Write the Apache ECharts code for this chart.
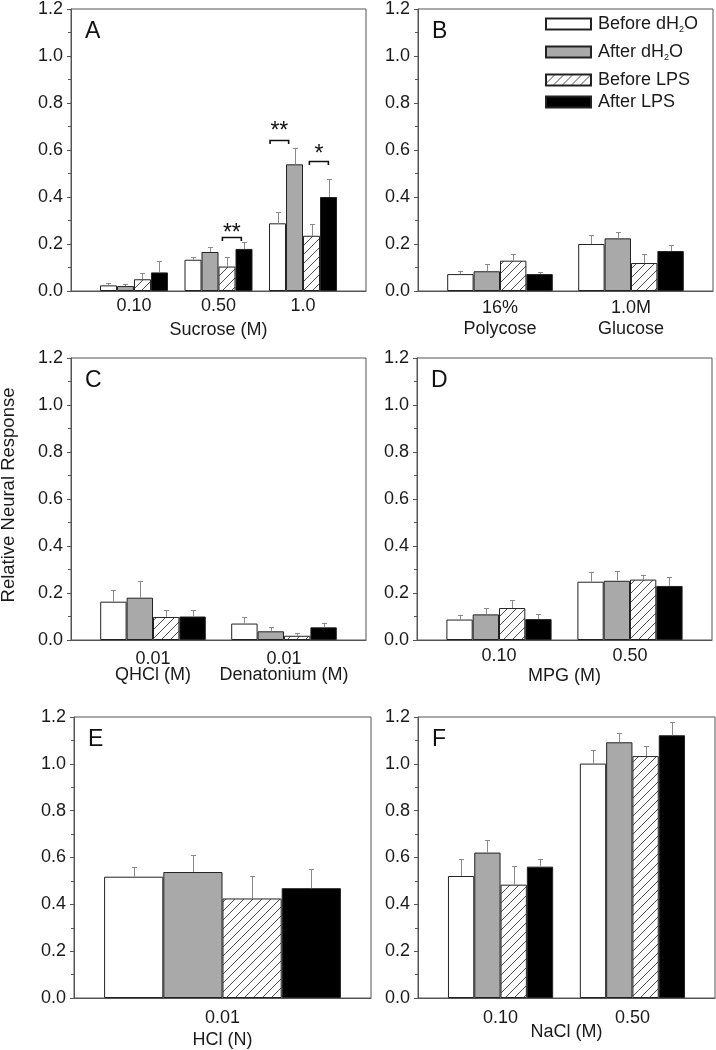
<!DOCTYPE html>
<html><head><meta charset="utf-8">
<script src="https://cdn.jsdelivr.net/npm/echarts@6/dist/echarts.min.js"></script>
<style>html,body{margin:0;padding:0;background:#fff}#c{width:716px;height:1050px}</style>
</head><body><div id="c"></div>
<script>
// ---------------- DATA ----------------
const seriesNames = ['Before dH2O', 'After dH2O', 'Before LPS', 'After LPS'];
const yTicks = [0, 0.2, 0.4, 0.6, 0.8, 1.0, 1.2];
const yTitle = 'Relative Neural Response';

// Panel A: Sucrose
const catA = ['0.10', '0.50', '1.0'];
const nameA = 'Sucrose (M)';
const valsA = [[0.024, 0.133, 0.288], [0.021, 0.166, 0.539], [0.050, 0.104, 0.235], [0.079, 0.179, 0.400]];
const errTopA = [[0.034, 0.145, 0.338], [0.031, 0.189, 0.609], [0.077, 0.145, 0.284], [0.128, 0.209, 0.478]];
// significance brackets in panel A (x in category units)
const sigX1 = [1.61, 2.075, 1.046];
const sigX2 = [1.83, 2.30, 1.27];
const sigY = [0.641, 0.555, 0.23];
const sigText = ['**', '*', '**'];
const sigTextY = [0.70, 0.603, 0.267];

// Panel B
const catB = ['16%\nPolycose', '1.0M\nGlucose'];
const valsB = [[0.072, 0.200], [0.084, 0.224], [0.129, 0.119], [0.072, 0.170]];
const errTopB = [[0.084, 0.238], [0.113, 0.250], [0.156, 0.156], [0.079, 0.197]];

// Panel C
const catC = ['0.01\nQHCl (M)', '0.01\nDenatonium (M)'];
const valsC = [[0.163, 0.070], [0.180, 0.037], [0.098, 0.018], [0.100, 0.054]];
const errTopC = [[0.211, 0.098], [0.250, 0.054], [0.129, 0.028], [0.126, 0.074]];

// Panel D
const catD = ['0.10', '0.50'];
const nameD = 'MPG (M)';
const valsD = [[0.087, 0.248], [0.109, 0.252], [0.136, 0.257], [0.089, 0.230]];
const errTopD = [[0.106, 0.289], [0.138, 0.294], [0.170, 0.278], [0.109, 0.268]];

// Panel E
const catE = ['0.01'];
const nameE = 'HCl (N)';
const valsE = [[0.518], [0.538], [0.425], [0.469]];
const errTopE = [[0.561], [0.611], [0.523], [0.550]];

// Panel F
const catF = ['0.10', '0.50'];
const nameF = 'NaCl (M)';
const valsF = [[0.521, 1.001], [0.621, 1.092], [0.484, 1.033], [0.561, 1.122]];
const errTopF = [[0.592, 1.061], [0.673, 1.133], [0.565, 1.077], [0.592, 1.179]];

// ---------------- STYLE / LAYOUT ----------------
const FF = "'Liberation Sans', Arial, Helvetica, sans-serif";
const FS = 18;
const TXT = '#1a1a1a';
const FRAME = '#555';
const hatch = (function () {
  const c = document.createElement('canvas'); c.width = 9; c.height = 9;
  const g = c.getContext('2d');
  g.fillStyle = '#fff'; g.fillRect(0, 0, 9, 9);
  g.strokeStyle = '#3a3a3a'; g.lineWidth = 0.9;
  g.beginPath(); g.moveTo(-1, 10); g.lineTo(10, -1); g.stroke();
  return c;
})();
const fills = ['#ffffff', '#a9a9a9', { image: hatch, repeat: 'repeat' }, '#000000'];

const panels = [
  { letter: 'A', cats: catA, vals: valsA, errs: errTopA, name: nameA, g: [71, 9, 295, 282], xr: [-0.745, 2.745], bw: 17, lm: 5, lh: 20, gap: 29 },
  { letter: 'B', cats: catB, vals: valsB, errs: errTopB, name: '', g: [418, 9, 295, 282], xr: [-0.626, 1.626], bw: 26.4, lm: 7, lh: 21, gap: 0 },
  { letter: 'C', cats: catC, vals: valsC, errs: errTopC, name: '', g: [71, 358, 295, 282], xr: [-0.626, 1.626], bw: 26.4, lm: 11, lh: 16, gap: 0 },
  { letter: 'D', cats: catD, vals: valsD, errs: errTopD, name: nameD, g: [417, 358, 295, 282], xr: [-0.626, 1.626], bw: 26.3, lm: 6.5, lh: 20, gap: 26.5 },
  { letter: 'E', cats: catE, vals: valsE, errs: errTopE, name: nameE, g: [74, 717, 297, 281], xr: [-1, 1], bw: 59.2, lm: 10.5, lh: 20, gap: 32 },
  { letter: 'F', cats: catF, vals: valsF, errs: errTopF, name: nameF, g: [418, 717, 297, 281], xr: [-0.626, 1.626], bw: 26.3, lm: 10.5, lh: 20, gap: 24 }
];

const grid = [], xAxis = [], yAxis = [], series = [], graphic = [];

panels.forEach((p, i) => {
  const [L, T, W, H] = p.g;
  grid.push({ left: L, top: T, width: W, height: H, show: true, borderColor: FRAME, borderWidth: 1,
    backgroundColor: 'transparent', containLabel: false, outerBoundsMode: 'none' });
  xAxis.push({
    type: 'value', gridIndex: i, min: p.xr[0], max: p.xr[1],
    axisLine: { show: true, onZero: false, lineStyle: { color: FRAME, width: 1 } },
    axisTick: { show: false }, splitLine: { show: false },
    axisLabel: {
      customValues: p.cats.map((_, k) => k),
      formatter: v => p.cats[Math.round(v)],
      fontSize: FS, color: TXT, fontFamily: FF, margin: p.lm, lineHeight: p.lh, align: 'center'
    },
    name: p.name, nameLocation: 'middle', nameGap: p.gap, nameMoveOverlap: false,
    nameTextStyle: { fontSize: FS, color: TXT, fontFamily: FF, lineHeight: 20 }
  });
  yAxis.push({
    type: 'value', gridIndex: i, min: 0, max: 1.2, interval: 0.2, position: 'left',
    axisLine: { show: true, onZero: false, lineStyle: { color: FRAME, width: 1 } },
    axisTick: { show: true, length: 4, lineStyle: { color: FRAME } },
    minorTick: { show: true, splitNumber: 2, length: 3, lineStyle: { color: FRAME } },
    splitLine: { show: false }, minorSplitLine: { show: false },
    axisLabel: { formatter: v => v.toFixed(1), fontSize: FS, color: TXT, fontFamily: FF, margin: 8 }
  });
  for (let s = 0; s < 4; s++) {
    series.push({
      type: 'bar', name: seriesNames[s], xAxisIndex: i, yAxisIndex: i,
      data: p.cats.map((_, k) => [k, p.vals[s][k]]),
      barWidth: p.bw, barGap: '0%', animation: false,
      itemStyle: { color: fills[s], borderColor: '#222', borderWidth: 1 },
      emphasis: { disabled: true }
    });
  }
  const errData = [];
  for (let s = 0; s < 4; s++) p.cats.forEach((_, k) => errData.push([k, p.vals[s][k], p.errs[s][k], s]));
  const bw = p.bw;
  series.push({
    type: 'custom', xAxisIndex: i, yAxisIndex: i, data: errData, animation: false, silent: true,
    encode: { x: 0, y: [1, 2] }, z: 3,
    renderItem: (params, api) => {
      const k = api.value(0), v = api.value(1), e = api.value(2), s = api.value(3);
      const p0 = api.coord([k, v]), p1 = api.coord([k, e]);
      const x = Math.round(p0[0] + (s - 1.5) * bw) + 0.5;
      const y1 = Math.round(p1[1]) + 0.5;
      return { type: 'group', children: [
        { type: 'line', shape: { x1: x, y1: p0[1], x2: x, y2: y1 }, style: { stroke: '#8a8a8a', lineWidth: 1 } },
        { type: 'line', shape: { x1: x - 2.5, y1: y1, x2: x + 2.5, y2: y1 }, style: { stroke: '#8a8a8a', lineWidth: 1 } }
      ] };
    }
  });
  graphic.push({ type: 'text', x: L + 14, y: T + 23,
    style: { text: p.letter, font: '23px ' + FF, fill: '#111', verticalAlign: 'middle', align: 'left' } });
});

// significance brackets (panel A)
series.push({
  type: 'custom', xAxisIndex: 0, yAxisIndex: 0, animation: false, silent: true, z: 4,
  data: sigX1.map((x, j) => [x, sigX2[j], sigY[j], sigTextY[j], j]),
  encode: { x: [0, 1], y: [2, 3] },
  renderItem: (params, api) => {
    const j = api.value(4);
    const a = api.coord([api.value(0), api.value(2)]);
    const b = api.coord([api.value(1), api.value(2)]);
    const t = api.coord([(api.value(0) + api.value(1)) / 2, api.value(3)]);
    const y = Math.round(a[1]) + 0.5;
    return { type: 'group', children: [
      { type: 'polyline', shape: { points: [[a[0], y + 3.5], [a[0], y], [b[0], y], [b[0], y + 3.5]] },
        style: { stroke: '#111', lineWidth: 1.6, fill: null } },
      { type: 'text', style: { text: sigText[j], x: t[0], y: t[1] + 5, align: 'center', verticalAlign: 'middle',
        font: '23px ' + FF, fill: '#111' } }
    ] };
  }
});

// y axis title
graphic.push({ type: 'text', x: 9, y: 495, rotation: Math.PI / 2,
  style: { text: yTitle, font: '18.5px ' + FF, fill: TXT, align: 'center', verticalAlign: 'middle' } });

// legends (in panel B)
const legendTops = [15, 43, 71, 93];
const legend = seriesNames.map((n, j) => ({
  data: [n], left: 545, top: legendTops[j], orient: 'vertical', padding: 0, itemGap: 0,
  itemWidth: 45, itemHeight: 11, icon: 'rect', selectedMode: false,
  formatter: name => name.indexOf('dH2O') >= 0 ? '{t|' + name.replace('dH2O', 'dH') + '}{s|2}{t|O}' : '{t|' + name + '}',
  textStyle: { color: TXT, fontFamily: FF, fontSize: FS, padding: [0, 0, 0, 2],
    rich: { t: { fontSize: FS, lineHeight: 20, fontFamily: FF, color: TXT },
            s: { fontSize: 9, lineHeight: 2, verticalAlign: 'bottom', fontFamily: FF, color: TXT } } }
}));

const chart = echarts.init(document.getElementById('c'), null, { renderer: 'canvas' });
chart.setOption({ animation: false, backgroundColor: '#fff', grid, xAxis, yAxis, series, graphic, legend });
</script></body></html>
